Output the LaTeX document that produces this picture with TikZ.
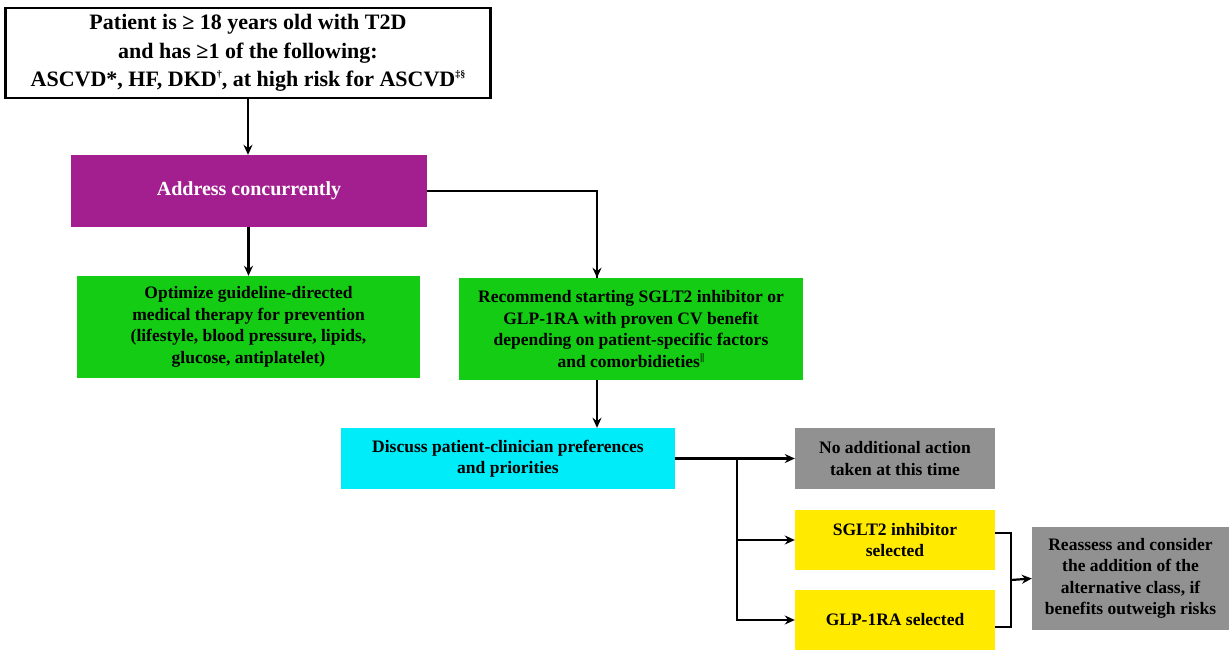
\documentclass[tikz,border=0pt]{standalone}
\usepackage{fontspec}
\setmainfont{Liberation Serif}
\usetikzlibrary{arrows.meta}
\definecolor{purp}{RGB}{163,31,143}
\definecolor{grn}{RGB}{20,204,20}
\definecolor{cyn}{RGB}{0,236,248}
\definecolor{gry}{RGB}{145,145,145}
\definecolor{ylw}{RGB}{255,234,0}
\newcommand{\smallsup}[1]{\raisebox{0.9ex}{\fontsize{10}{10}\selectfont #1}}
\begin{document}
\begin{tikzpicture}[x=1pt, y=-1pt,
  box/.style={align=center, inner sep=2pt, font=\fontsize{17.5}{21.5}\selectfont\bfseries},
  arr/.style={line width=2.2pt, -{Stealth[length=10pt, width=9pt]}},
  ln/.style={line width=2.2pt}]
\useasboundingbox (0,0) rectangle (1229,649);
\node[box, draw=black, line width=2.2pt, fill=white, minimum width=485, minimum height=90,
  font=\fontsize{22}{28.5}\selectfont\bfseries] (patient) at (248,53)
  {Patient is ≥ 18 years old with T2D\\and has ≥1 of the following:\\ASCVD*, HF, DKD\smallsup{†}, at high risk for ASCVD\smallsup{‡§}};
\node[box, fill=purp, text=white, minimum width=356, minimum height=72,
  font=\fontsize{20}{24}\selectfont\bfseries] (address) at (249,191) {Address concurrently};
\node[box, fill=grn, minimum width=343, minimum height=102] (optimize) at (248.5,327)
  {Optimize guideline-directed\\medical therapy for prevention\\(lifestyle, blood pressure, lipids,\\glucose, antiplatelet)};
\node[box, fill=grn, minimum width=344, minimum height=102] (recommend) at (631,329)
  {Recommend starting SGLT2 inhibitor or\\GLP-1RA with proven CV benefit\\depending on patient-specific factors\\and comorbidieties\smallsup{||}};
\node[box, fill=cyn, minimum width=334, minimum height=61] (discuss) at (508,458.5)
  {Discuss patient-clinician preferences\\and priorities};
\node[box, fill=gry, minimum width=200, minimum height=61] (noaction) at (895,458.5)
  {No additional action\\taken at this time};
\node[box, fill=ylw, minimum width=200, minimum height=60] (sglt) at (895,540)
  {SGLT2 inhibitor\\selected};
\node[box, fill=ylw, minimum width=200, minimum height=60] (glp) at (895,620)
  {GLP-1RA selected};
\node[box, fill=gry, minimum width=197, minimum height=103] (reassess) at (1130.5,578.5)
  {Reassess and consider\\the addition of the\\alternative class, if\\benefits outweigh risks};
\coordinate (split) at (737,458.5);
\coordinate (join) at (1011,580);
\draw[arr] (patient.south) -- (patient.south |- address.north);
\draw[arr] (optimize.north |- address.south) -- (optimize.north);
\draw[ln, line width=1.6pt] (address.east) -| ([xshift=-34pt]recommend.north);
\draw[arr] ([xshift=-34pt]recommend.north) ++(0,-1) -- ([xshift=-34pt]recommend.north);
\draw[arr] ([xshift=-34pt]recommend.south) -- ([xshift=-34pt]recommend.south |- discuss.north);
\draw[arr] (discuss.east) -- (noaction.west);
\draw[arr] (split) |- (sglt.west);
\draw[arr] (split) |- (glp.west);
\draw[ln] ([yshift=7pt]sglt.east) -| (join) |- ([yshift=-7pt]glp.east);
\draw[arr] (join) -- (reassess.west);
\end{tikzpicture}
\end{document}
